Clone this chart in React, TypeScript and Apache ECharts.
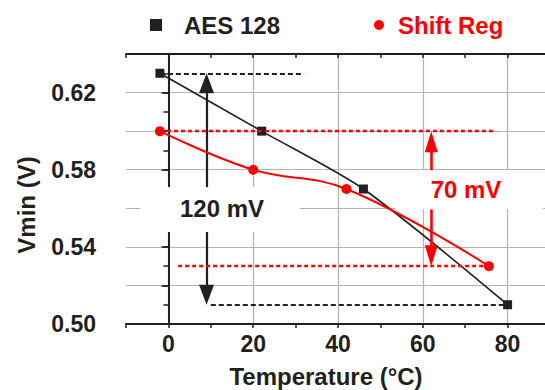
import React, { useEffect, useRef } from 'react';
import * as echarts from 'echarts';

// ---- data ----
const aesTemp = [-2, 22, 46, 80];
const aesVmin = [0.63, 0.6, 0.57, 0.51];
const shiftTemp = [-2, 20, 42, 75.6];
const shiftVmin = [0.6, 0.58, 0.57, 0.53];

const xTickLabels = [0, 20, 40, 60, 80];
const yTickLabels = ['0.50', '0.54', '0.58', '0.62'];

// annotation values
const aesSpan = [0.63, 0.51];
const aesGuideFrom = [-2, 10];
const aesGuideTo = [32, 80];
const aesArrowX = 9;
const aesArrowShaft = [0.571, 0.5477];
const shiftSpan = [0.6, 0.53];
const shiftGuideFrom = [-2, 2.3];
const shiftGuideTo = [77.3, 75.6];
const shiftArrowX = 62;
const shiftArrowShaft = [0.5798, 0.5594];

const X_MIN = -10, X_MAX = 90, Y_MIN = 0.5, Y_MAX = 0.64;
const W = 545, H = 390;
const GRID = { left: 126, top: 54, right: -5, bottom: 66, outerBoundsMode: 'none', containLabel: false };
const yPerPx = (Y_MAX - Y_MIN) / (H - GRID.top - GRID.bottom);

const INK = '#231f20';
const RED = '#ff0000';
const GRIDC = '#b3b3b3';
const FONT = '"Liberation Sans", Arial, sans-serif';

function App() {
  const ref = useRef<HTMLDivElement>(null);
  useEffect(() => {
    if (!ref.current) return;
    const chart = echarts.init(ref.current, undefined, { renderer: 'svg' });

    const blackDash = { type: [5, 3], width: 2, color: INK };
    const redDash = { type: [4, 3], width: 2.4, color: RED };
    const guide = (x0: number, x1: number, y: number, ls: any) => [
      { coord: [x0, y], symbol: 'none', lineStyle: ls },
      { coord: [x1, y], symbol: 'none', lineStyle: ls },
    ];
    const arrow = (x: number, from: number, tip: number, ls: any, head: number[]) => {
      const dir = tip > from ? 1 : -1;
      const end = tip - dir * (head[1] / 2) * yPerPx;
      return [
        { coord: [x, from], symbol: 'none', lineStyle: ls },
        { coord: [x, end], symbol: 'triangle', symbolSize: head, lineStyle: ls },
      ];
    };
    const blackShaft = { type: 'solid', width: 2.2, color: INK };
    const redShaft = { type: 'solid', width: 2.6, color: RED };

    const tickFont = { fontSize: 23, fontWeight: 'bold', color: INK, fontFamily: FONT };

    chart.setOption({
      animation: false,
      grid: GRID,
      legend: [
        {
          data: [{ name: 'AES 128', icon: 'rect' }],
          left: 150, top: 12, padding: 0,
          itemWidth: 12, itemHeight: 12,
          selectedMode: false,
          textStyle: { fontSize: 24, fontWeight: 'bold', color: INK, fontFamily: FONT, lineHeight: 26, padding: [0, 0, 0, 17] },
        },
        {
          data: [{ name: 'Shift Reg', icon: 'circle' }],
          left: 374, top: 12, padding: 0,
          itemWidth: 10, itemHeight: 10,
          selectedMode: false,
          textStyle: { fontSize: 24, fontWeight: 'bold', color: RED, fontFamily: FONT, lineHeight: 26, padding: [0, 0, 0, 9] },
        },
      ],
      xAxis: [
        {
          type: 'value', position: 'bottom', min: X_MIN, max: X_MAX, interval: 10,
          name: 'Temperature (°C)', nameLocation: 'middle', nameGap: 40,
          nameTextStyle: { fontSize: 24, fontWeight: 'bold', color: INK, fontFamily: FONT, padding: [0, 24, 0, 0] },
          axisLine: { show: true, lineStyle: { color: INK, width: 2 } },
          axisTick: { show: true, inside: false, length: 4, lineStyle: { color: INK, width: 1.5 } },
          axisLabel: {
            ...tickFont, margin: 8,
            formatter: (v: number) => (xTickLabels.indexOf(Math.round(v)) >= 0 && Math.abs(v - Math.round(v)) < 1e-6 ? String(Math.round(v)) : ''),
          },
          splitLine: { show: false },
        },
        {
          type: 'value', position: 'top', min: X_MIN, max: X_MAX, interval: 10,
          axisLine: { show: true, lineStyle: { color: INK, width: 2 } },
          axisTick: { show: true, inside: true, length: 4, lineStyle: { color: INK, width: 1.5 } },
          axisLabel: { show: false },
          splitLine: { show: true, lineStyle: { color: ['rgba(0,0,0,0)', GRIDC], width: 1.2 } },
        },
      ],
      yAxis: [
        {
          type: 'value', position: 'left', min: Y_MIN, max: Y_MAX, interval: 0.01,
          name: 'Vmin (V)', nameLocation: 'middle', nameGap: 88,
          nameTextStyle: { fontSize: 24, fontWeight: 'bold', color: INK, fontFamily: FONT, padding: [0, 32, 0, 0] },
          axisLine: { show: true, lineStyle: { color: INK, width: 2 } },
          axisTick: { show: true, inside: false, length: 5, lineStyle: { color: INK, width: 1.5 } },
          axisLabel: {
            ...tickFont, margin: 30,
            formatter: (v: number) => {
              const s = v.toFixed(2);
              return yTickLabels.indexOf(s) >= 0 ? s : '';
            },
          },
          splitLine: { show: false },
        },
        {
          type: 'value', position: 'right', min: Y_MIN, max: Y_MAX, interval: 0.02,
          axisLine: { show: true, lineStyle: { color: INK, width: 2 } },
          axisTick: { show: true, inside: true, length: 7, lineStyle: { color: INK, width: 1.5 } },
          axisLabel: { show: false },
          splitLine: { show: true, lineStyle: { color: GRIDC, width: 1.2 } },
        },
      ],
      graphic: [
        { type: 'rect', z: 1, shape: { x: 140, y: 187, width: 160, height: 45 }, style: { fill: '#ffffff' }, silent: true },
        { type: 'rect', z: 1, shape: { x: 395, y: 170, width: 148, height: 39 }, style: { fill: '#ffffff' }, silent: true },
        {
          type: 'text', z: 2, x: 222, y: 208,
          style: { text: '120 mV', fontSize: 24, fontWeight: 'bold', fill: INK, fontFamily: FONT, align: 'center', verticalAlign: 'middle' },
        },
        {
          type: 'text', z: 2, x: 466, y: 189,
          style: { text: '70 mV', fontSize: 24, fontWeight: 'bold', fill: RED, fontFamily: FONT, align: 'center', verticalAlign: 'middle' },
        },
      ],
      series: [
        {
          name: 'AES 128', type: 'line', xAxisIndex: 0, yAxisIndex: 0, z: 4,
          data: aesTemp.map((t, i) => [t, aesVmin[i]]),
          smooth: 0.25,
          symbol: 'rect', symbolSize: 9,
          lineStyle: { color: INK, width: 1.6 },
          itemStyle: { color: INK },
          emphasis: { disabled: true },
          markLine: {
            silent: true, animation: false, symbol: ['none', 'none'], label: { show: false },
            emphasis: { disabled: true },
            data: [
              guide(aesGuideFrom[0], aesGuideTo[0], aesSpan[0], blackDash),
              guide(aesGuideFrom[1], aesGuideTo[1], aesSpan[1], blackDash),
              arrow(aesArrowX, aesArrowShaft[0], aesSpan[0], blackShaft, [15, 20]),
              arrow(aesArrowX, aesArrowShaft[1], aesSpan[1], blackShaft, [15, 20]),
            ],
          },
        },
        {
          name: 'Shift Reg', type: 'line', xAxisIndex: 0, yAxisIndex: 0, z: 5,
          data: shiftTemp.map((t, i) => [t, shiftVmin[i]]),
          smooth: 0.4,
          symbol: 'circle', symbolSize: 10,
          lineStyle: { color: RED, width: 2 },
          itemStyle: { color: RED },
          emphasis: { disabled: true },
          markLine: {
            silent: true, animation: false, symbol: ['none', 'none'], label: { show: false },
            emphasis: { disabled: true },
            data: [
              guide(shiftGuideFrom[0], shiftGuideTo[0], shiftSpan[0], redDash),
              guide(shiftGuideFrom[1], shiftGuideTo[1], shiftSpan[1], redDash),
              arrow(shiftArrowX, shiftArrowShaft[0], shiftSpan[0], redShaft, [13, 21]),
              arrow(shiftArrowX, shiftArrowShaft[1], shiftSpan[1], redShaft, [13, 21]),
            ],
          },
        },
      ],
    });
    return () => chart.dispose();
  }, []);
  return <div ref={ref} style={{ position: 'fixed', left: 0, top: 0, width: W, height: H, background: '#fff' }} />;
}

export default App;
